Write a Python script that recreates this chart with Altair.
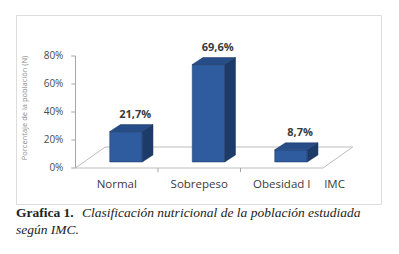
import altair as alt
import pandas as pd

# ---- data ----
categories = ["Normal", "Sobrepeso", "Obesidad I"]
values = [21.7, 69.6, 8.7]
value_labels = ["21,7%", "69,6%", "8,7%"]
y_ticks = [0, 20, 40, 60, 80]
y_tick_labels = ["0%", "20%", "40%", "60%", "80%"]
x_axis_title = "IMC"
y_axis_title = "Porcentaje de la población (N)"
caption_bold = "Grafica 1."
caption_italic_1 = "Clasificación nutricional de la población estudiada"
caption_italic_2 = "según IMC."

# ---- pseudo-3D geometry (style constants) ----
W, H = 365, 189
XDOM = [-1.3333, 3.0909]
YDOM = [-25.71, 109.29]
HW = 0.197           # half bar width (category units)
DX, DY = 0.13, 5.0   # bar depth offset
BASE = 4.3           # bar bottom (bars stand back on the floor)
FL = -0.612          # floor front-left
FR = FL + len(categories)
FDX, FDY = 0.36, 15.0  # floor depth
TICK = 0.05          # axis tick length in x units

FRONT = "#2f5c9e"
SIDE = "#1d3b68"
TOP = "#274d88"
EDGE = "#1b355e"
FLOOR = "#bdbdbd"

xs = alt.Scale(domain=XDOM, nice=False, zero=False)
ys = alt.Scale(domain=YDOM, nice=False, zero=False)


def X(f):
    return alt.X(f, type="quantitative", scale=xs, axis=None)


def Y(f):
    return alt.Y(f, type="quantitative", scale=ys, axis=None, stack=None)


bars = pd.DataFrame({"cat": categories, "v": values, "lab": value_labels})
bars["i"] = range(len(categories))
bars["x1"] = bars["i"] - HW
bars["x2"] = bars["i"] + HW
bars["yb"] = BASE
bars["yt"] = BASE + bars["v"]
bars["lx"] = bars["i"] + DX * 0.85
bars["ly"] = bars["yt"] + DY

# side and top faces, one small table per bar
face_layers = []
for i, (c, v) in enumerate(zip(categories, values)):
    t = BASE + v
    side = pd.DataFrame({
        "px": [i + HW, i + HW + DX],
        "lo": [BASE, BASE + DY],
        "hi": [t, t + DY],
    })
    top = pd.DataFrame({
        "px": [i - HW, i - HW + DX, i + HW, i + HW + DX],
        "lo": [t, t, t, t + DY],
        "hi": [t, t + DY, t + DY, t + DY],
    })
    face_layers.append(
        alt.Chart(side).mark_area(fill=SIDE, stroke=EDGE, strokeWidth=0.5,
                                  orient="vertical", interpolate="linear")
        .encode(x=X("px"), y=Y("lo"), y2=alt.Y2("hi"))
    )
    face_layers.append(
        alt.Chart(top).mark_area(fill=TOP, stroke=EDGE, strokeWidth=0.5,
                                 orient="vertical", interpolate="linear")
        .encode(x=X("px"), y=Y("lo"), y2=alt.Y2("hi"))
    )

floor = pd.DataFrame({
    "px": [FL, FL + FDX, FR + FDX, FR, FL],
    "py": [0, FDY, FDY, 0, 0],
    "o": [0, 1, 2, 3, 4],
})

# axis line + ticks as short polylines
seg_rows = [{"g": "axis", "px": FL, "py": y_ticks[0], "o": 0},
            {"g": "axis", "px": FL, "py": y_ticks[-1], "o": 1}]
for k, yv in enumerate(y_ticks):
    seg_rows += [{"g": f"yt{k}", "px": FL - TICK, "py": yv, "o": 0},
                 {"g": f"yt{k}", "px": FL, "py": yv, "o": 1}]
for k in range(1, len(categories)):
    seg_rows += [{"g": f"xt{k}", "px": FL + k, "py": 0, "o": 0},
                 {"g": f"xt{k}", "px": FL + k, "py": -2.9, "o": 1}]
segs = pd.DataFrame(seg_rows)

ylabels = pd.DataFrame({"py": y_ticks, "t": y_tick_labels})
ylabels["px"] = FL - TICK

cat_labels = pd.DataFrame({
    "t": categories + [x_axis_title],
    "px": [FL + 0.5 + k for k in range(len(categories))] + [FR + 0.14],
})
cat_labels["py"] = -12.1

floor_layer = alt.Chart(floor).mark_line(color=FLOOR, strokeWidth=1).encode(
    x=X("px"), y=Y("py"), order="o:Q",
)
seg_layer = alt.Chart(segs).mark_line(color="#a6a6a6", strokeWidth=1).encode(
    x=X("px"), y=Y("py"), detail="g:N", order="o:Q",
)
ylab_layer = alt.Chart(ylabels).mark_text(
    font="Open Sans", fontSize=10, color="#4a4a4a", align="right", baseline="middle", dx=-8
).encode(x=X("px"), y=Y("py"), text="t:N")

front_layer = alt.Chart(bars).mark_rect(color=FRONT, stroke=EDGE, strokeWidth=0.5).encode(
    x=X("x1"), x2=alt.X2("x2"), y=Y("yb"), y2=alt.Y2("yt"),
)
value_layer = alt.Chart(bars).mark_text(font="Open Sans", fontSize=11, fontWeight="bold",
                                        color="#3a3a3a", baseline="bottom", dy=-5).encode(
    x=X("lx"), y=Y("ly"), text="lab:N",
)
cat_layer = alt.Chart(cat_labels).mark_text(font="Open Sans", fontSize=11.5,
                                            color="#3a3a3a", baseline="middle").encode(
    x=X("px"), y=Y("py"), text="t:N",
)
ytitle_layer = alt.Chart(pd.DataFrame({"t": [y_axis_title]})).mark_text(
    font="Open Sans", fontSize=7.5, color="#8a8a8a", angle=270, baseline="middle"
).encode(x=alt.value(9), y=alt.value(93), text="t:N")

cap = pd.DataFrame({"t": [caption_bold, caption_italic_1, caption_italic_2]})
cap1 = alt.Chart(cap.iloc[[0]]).mark_text(
    font="Liberation Serif", fontSize=13.5, fontWeight="bold", color="#222222", align="left"
).encode(x=alt.value(0), y=alt.value(198), text="t:N")
cap2 = alt.Chart(cap.iloc[[1]]).mark_text(
    font="Liberation Serif", fontSize=13.5, fontStyle="italic", color="#222222", align="left"
).encode(x=alt.value(66), y=alt.value(198), text="t:N")
cap3 = alt.Chart(cap.iloc[[2]]).mark_text(
    font="Liberation Serif", fontSize=13.5, fontStyle="italic", color="#222222", align="left"
).encode(x=alt.value(0), y=alt.value(215), text="t:N")

chart = alt.layer(
    floor_layer, seg_layer, ylab_layer, front_layer, *face_layers,
    value_layer, cat_layer, ytitle_layer, cap1, cap2, cap3,
).properties(
    width=W, height=H,
    autosize=alt.AutoSizeParams(type="none"),
    padding={"left": 8, "top": 7, "right": 8, "bottom": 36},
).configure_view(stroke="#a3a3a3", strokeWidth=2).configure(background="white")

chart.save("out.html", embed_options={"renderer": "svg", "actions": False})
